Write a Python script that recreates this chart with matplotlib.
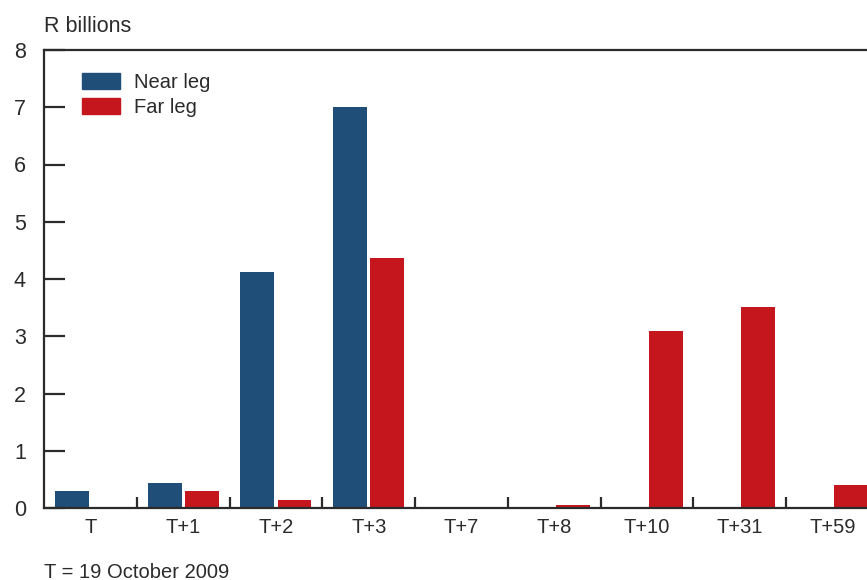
import numpy as np
import matplotlib.pyplot as plt
from matplotlib.patches import Patch

# Daten (R Milliarden)
categories = ["T", "T+1", "T+2", "T+3", "T+7", "T+8", "T+10", "T+31", "T+59"]
near_leg = [0.30, 0.43, 4.12, 7.0, 0, 0, 0, 0, 0]
far_leg = [0, 0.29, 0.14, 4.37, 0, 0.05, 3.1, 3.51, 0.41]

blue = "#1f4e78"
red = "#c4161c"
text_col = "#2b2b2b"

plt.rcParams["font.family"] = ["Liberation Sans", "DejaVu Sans"]

fig = plt.figure(figsize=(8.67, 5.8), dpi=100)
ax = fig.add_axes([44 / 867, 72 / 580, 835 / 867, 458 / 580])

x = np.arange(len(categories))
ax.bar(x - 0.2, near_leg, width=0.366, color=blue)
ax.bar(x + 0.2, far_leg, width=0.366, color=red)

ax.set_xlim(-0.5, len(categories) - 0.5)
ax.set_ylim(0, 8)

for s in ax.spines.values():
    s.set_linewidth(1.6)
    s.set_color(text_col)

# x-Achse: Beschriftung in der Mitte, Striche an den Grenzen
ax.set_xticks(x)
ax.set_xticklabels(categories)
ax.set_xticks(x[:-1] + 0.5, minor=True)
ax.tick_params(axis="x", which="major", length=0, pad=7, labelsize=14.5, labelcolor=text_col)
ax.tick_params(axis="x", which="minor", direction="in", length=8, width=1.6, color=text_col)

ax.set_yticks(range(0, 9))
ax.tick_params(axis="y", direction="in", length=15, width=1.6, color=text_col,
               pad=13, labelsize=15.5, labelcolor=text_col)

fig.text(44 / 867, 1 - 27 / 580, "R billions", fontsize=15.5, color=text_col, va="center")
fig.text(44 / 867, 1 - 572 / 580, "T = 19 October 2009", fontsize=14.5, color=text_col, va="center")

handles = [Patch(color=blue, label="Near leg"), Patch(color=red, label="Far leg")]
ax.legend(handles=handles, loc="upper left", bbox_to_anchor=(38 / 835, 0.949), frameon=False,
          borderaxespad=0, borderpad=0, fontsize=14.5, handlelength=1.9, handleheight=0.85,
          handletextpad=0.7, labelspacing=0.28, labelcolor=text_col)

fig.savefig("out.png", dpi=100)
